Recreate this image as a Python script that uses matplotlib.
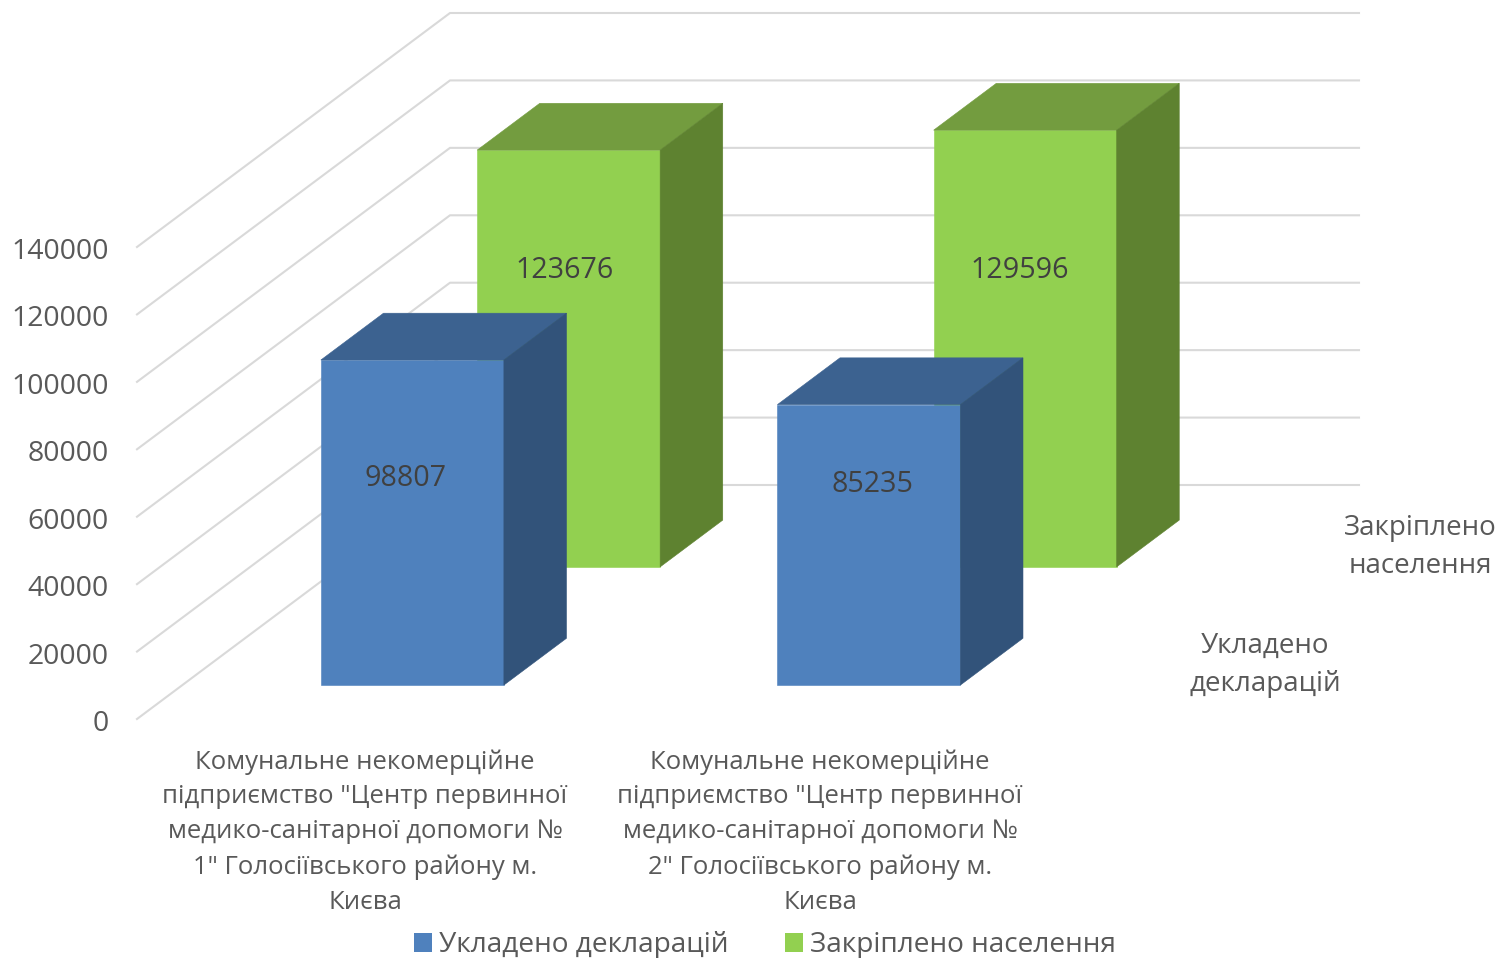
import matplotlib
matplotlib.use("Agg")
import matplotlib.pyplot as plt
from matplotlib.patches import Patch, Polygon


categories = [
    'Комунальне некомерційне\nпідприємство "Центр первинної\nмедико-санітарної допомоги №\n1" Голосіївського району м.\nКиєва',
    'Комунальне некомерційне\nпідприємство "Центр первинної\nмедико-санітарної допомоги №\n2" Голосіївського району м.\nКиєва',
]
declarations = [98807, 85235]
population = [123676, 129596]
y_ticks = [0, 20000, 40000, 60000, 80000, 100000, 120000, 140000]
series_names = ["Укладено декларацій", "Закріплено населення"]
series_axis_labels = ["Укладено\nдекларацій", "Закріплено\nнаселення"]

plt.rcParams["font.family"] = ["Open Sans", "DejaVu Sans"]
text_color = "#595959"
grid_color = "#d9d9d9"

# oblique projection, all in image pixels
origin_x, origin_y = 137, 719
depth_x, depth_y = 313, 234
cat_width = 456.5
wall_width = 909
bar_width = 183
value_scale = 472 / 140000


def project(cat_pos, value, depth, scale=value_scale):
    x = origin_x + cat_pos * cat_width + depth * depth_x
    y = origin_y - depth * depth_y - value * scale
    return x, y


def draw_bar(ax, i, value, depth, scale, x_shift, front, top, side, zorder):
    left = (137 + x_shift) / cat_width + i
    right = left + bar_width / cat_width
    d2 = depth + 0.2
    faces = [
        ([project(left, 0, depth, scale), project(right, 0, depth, scale),
          project(right, value, depth, scale), project(left, value, depth, scale)], front),
        ([project(left, value, depth, scale), project(right, value, depth, scale),
          project(right, value, d2, scale), project(left, value, d2, scale)], top),
        ([project(right, 0, depth, scale), project(right, value, depth, scale),
          project(right, value, d2, scale), project(right, 0, d2, scale)], side),
    ]
    for pts, color in faces:
        ax.add_patch(Polygon(pts, facecolor=color, edgecolor=color, lw=0.4, zorder=zorder))


fig = plt.figure(figsize=(14.97, 9.58), dpi=100)
ax = fig.add_axes([0, 0, 1, 1])
ax.set_xlim(0, 1497)
ax.set_ylim(958, 0)
ax.axis("off")

for tick in y_ticks:
    x0, y0 = project(0, tick, 0)
    x1, y1 = project(0, tick, 1)
    ax.plot([x0, x1, x1 + wall_width], [y0, y1, y1], color=grid_color, lw=1.5, zorder=1)
    ax.text(108.5, y0 + 5, str(tick), ha="right", va="center", fontsize=20.4, color=text_color)

for i in range(len(categories)):
    draw_bar(ax, i, population[i], 0.65, 0.00337, -0.3, "#92d050", "#739c3f", "#5e8230", 2)
    draw_bar(ax, i, declarations[i], 0.145, 0.00329, 1.5, "#4f81bd", "#3c6290", "#32537a", 3)

label_pos = [[(406, 478), (872, 484)], [(565, 271), (1020, 271)]]
for vals, pos in zip([declarations, population], label_pos):
    for v, (x, y) in zip(vals, pos):
        ax.text(x, y, str(v), ha="center", va="center", fontsize=20.6, color="#404040", zorder=5)

for label, x in zip(categories, [365, 820]):
    ax.text(x, 832, label, ha="center", va="center", fontsize=18.5, color=text_color, linespacing=1.52)

ax.text(1265, 665, series_axis_labels[0], ha="center", va="center", fontsize=20, color=text_color, linespacing=1.52)
ax.text(1420, 547, series_axis_labels[1], ha="center", va="center", fontsize=20, color=text_color, linespacing=1.52)

handles = [Patch(facecolor="#4f81bd", label=series_names[0]), Patch(facecolor="#92d050", label=series_names[1])]
ax.legend(handles=handles, ncol=2, loc="center", bbox_to_anchor=(765, 945), bbox_transform=ax.transData,
          frameon=False, fontsize=20.2, labelcolor=text_color, handlelength=0.65, handleheight=0.65,
          handletextpad=0.25, columnspacing=2, borderpad=0, borderaxespad=0)

fig.savefig("out.png", dpi=100)
